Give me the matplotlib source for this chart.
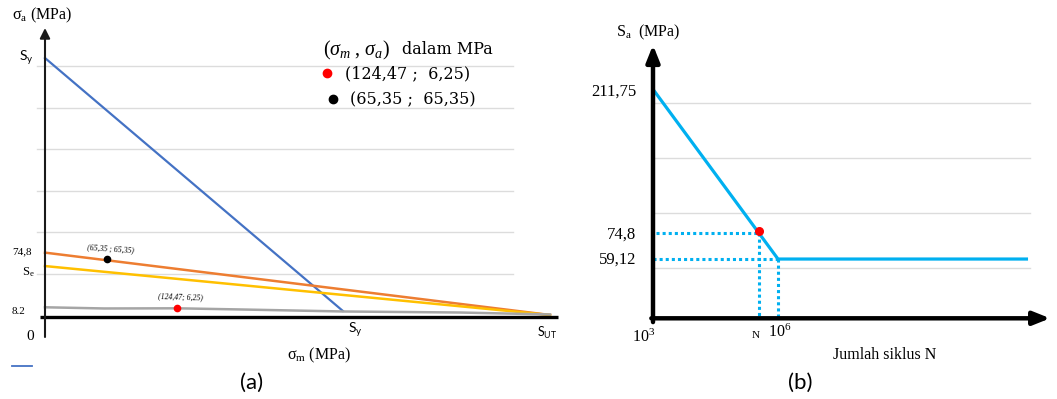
import matplotlib
matplotlib.use("Agg")
import matplotlib.pyplot as plt
import numpy as np

plt.rcParams['font.family'] = ['Liberation Serif', 'DejaVu Serif']
plt.rcParams['mathtext.fontset'] = 'custom'
plt.rcParams['mathtext.rm'] = 'Liberation Serif'
plt.rcParams['mathtext.it'] = 'Liberation Serif:italic'
plt.rcParams['mathtext.bf'] = 'Liberation Serif:bold'
plt.rcParams['mathtext.sf'] = 'Lato'

# ---------------- data: (a) stress diagram (schematic, MPa) ----------------
S_y = 302.0            # yield strength (both axes intercept of Langer line)
S_ut = 512.0           # ultimate strength on sigma_m axis
S_e = 59.12            # endurance limit on sigma_a axis
goodman_a0 = 74.8      # intercept of the orange line
end_a = 2.0            # where the lines meet near S_ut
langer_m = [0.0, S_y]
langer_a = [S_y, 6.7]
orange_m = [0.0, S_ut]
orange_a = [goodman_a0, end_a]
yellow_m = [0.0, S_ut]
yellow_a = [S_e, end_a]
gray_m = [0, 60, 134, 200, 302, 420, 512]
gray_a = [11.0, 9.6, 9.8, 8.4, 6.1, 4.9, 2.6]
black_pt = (63.2, 67.0)
red_pt = (134.1, 10.2)
grid_a_left = [50.4, 98.9, 147.3, 195.8, 244.2, 292.7]

# ---------------- data: (b) S-N diagram ----------------
N_curve = [1e3, 1e6, 1e12]
S_curve = [211.75, 54.8, 54.8]
N_point = 10 ** 5.55
S_point = 78.5
grid_s_right = [46.2, 97.6, 147.9, 199.4]

W, H = 1057, 399
fig = plt.figure(figsize=(W / 100, H / 100), dpi=100)

def P(x, y):
    return (x / W, 1 - y / H)

# ---------------- left axes ----------------
sx, sy = 0.9863, 0.8566     # px per unit
ox, oy = 45.0, 316.7        # pixel origin
ax1 = fig.add_axes([0, 0, 575 / W, 1])
ax1.set_xlim(-ox / sx, (575 - ox) / sx)
ax1.set_ylim(-(H - oy) / sy, oy / sy)
ax1.axis('off')

for g in grid_a_left:
    ax1.plot([-8.1, 474.5], [g, g], color='#DCDCDC', lw=1.0, zorder=1)

ax1.plot(langer_m, langer_a, color='#4472C4', lw=1.6, zorder=3)
ax1.plot(orange_m, orange_a, color='#ED7D31', lw=1.8, zorder=3)
ax1.plot(yellow_m, yellow_a, color='#FFC000', lw=1.8, zorder=3)
ax1.plot(gray_m, gray_a, color='#A5A5A5', lw=1.8, zorder=3)
ax1.plot(*black_pt, 'o', color='black', ms=4.5, zorder=5)
ax1.plot(*red_pt, 'o', color='red', ms=4.5, zorder=5)

# axes
ax1.plot([-5, 520], [0, 0], color='black', lw=2.4, zorder=4, solid_capstyle='butt')
ax1.annotate('', xy=(0, 337), xytext=(0, -23.7),
             arrowprops=dict(arrowstyle='-|>,head_length=0.6,head_width=0.3',
                             color='#1a1a1a', lw=1.5, shrinkA=0, shrinkB=0), zorder=4)

# point annotations
ax1.text(black_pt[0] + 3, black_pt[1] + 12, '(65,35 ; 65,35)', style='italic',
         fontsize=5.6, ha='center', va='center', rotation=-4)
ax1.text(red_pt[0] + 3, red_pt[1] + 13, '(124,47; 6,25)', style='italic',
         fontsize=5.6, ha='center', va='center', rotation=-2)

# labels (a)
fig.text(*P(12, 15), r'$\mathrm{\sigma_a}$ (MPa)', fontsize=11.5, ha='left', va='center')
fig.text(*P(26, 58), r'$\mathsf{S_y}$', fontsize=10, ha='center', va='center')
fig.text(*P(22, 252), '74,8', fontsize=8, ha='center', va='center')
fig.text(*P(28, 272), r'$\mathrm{S_e}$', fontsize=9, ha='center', va='center')
fig.text(*P(18, 311), '8.2', fontsize=8, ha='center', va='center')
fig.text(*P(30, 337), '0', fontsize=11, ha='center', va='center')
fig.text(*P(355, 330), r'$\mathsf{S_y}$', fontsize=10, ha='center', va='center')
fig.text(*P(547, 333), r'$\mathsf{S_{UT}}$', fontsize=9, ha='center', va='center')
fig.text(*P(287, 355), r'$\mathrm{\sigma_m}$ (MPa)', fontsize=11.5, ha='left', va='center')

# legend
fig.text(*P(323, 50), r'$(\sigma_m\;,\mathrm{\,}\sigma_a)$', fontsize=14.5,
         ha='left', va='center')
fig.text(*P(402, 50), 'dalam MPa', fontsize=11.5, family='DejaVu Serif',
         ha='left', va='center')
fig.text(*P(345, 74), '(124,47 ;  6,25)', fontsize=11.5, family='DejaVu Serif',
         ha='left', va='center')
fig.text(*P(350, 100), '(65,35 ;  65,35)', fontsize=11.5, family='DejaVu Serif',
         ha='left', va='center')
fig.add_artist(plt.Line2D([327 / W], [1 - 73 / H], marker='o', color='red', ms=6,
                          transform=fig.transFigure))
fig.add_artist(plt.Line2D([333 / W], [1 - 99 / H], marker='o', color='black', ms=6,
                          transform=fig.transFigure))
fig.add_artist(plt.Line2D([12 / W, 32 / W], [1 - 366 / H, 1 - 366 / H], color='#4472C4',
                          lw=1.3, transform=fig.transFigure))
fig.text(*P(252, 383), '(a)', fontsize=16, family='Lato', ha='center', va='center')

# ---------------- right axes ----------------
dec = 41.67            # px per decade
sy2 = 1.0815
ox2, oy2 = 653.0, 318.3
ax2 = fig.add_axes([580 / W, 0, 477 / W, 1])
ax2.set_xscale('log')
ax2.set_xlim(10 ** (3 - (ox2 - 580) / dec), 10 ** (3 + (W - ox2) / dec))
ax2.set_ylim(-(H - oy2) / sy2, oy2 / sy2)
ax2.axis('off')

for g in grid_s_right:
    ax2.plot([1e3, 10 ** 12.05], [g, g], color='#DCDCDC', lw=1.0, zorder=1)

cyan = '#00B0F0'
ax2.plot(N_curve, S_curve, color=cyan, lw=2.3, zorder=3, solid_capstyle='butt')
ax2.plot([10 ** 3.07, N_point], [S_point, S_point], color=cyan, lw=2.2,
         linestyle=(0, (1, 1)), zorder=2)
ax2.plot([1e3, N_curve[1]], [S_curve[1], S_curve[1]], color=cyan, lw=2.2,
         linestyle=(0, (1, 1)), zorder=2)
ax2.plot([N_point, N_point], [S_point, 0], color=cyan, lw=2.2,
         linestyle=(0, (1, 1)), zorder=2)
ax2.plot([N_curve[1], N_curve[1]], [S_curve[1], 0], color=cyan, lw=2.2,
         linestyle=(0, (1, 1)), zorder=2)
ax2.plot(N_point, S_point + 2, 'o', color='red', ms=5.5, zorder=5)

# axes with arrows
ax2.annotate('', xy=(1e3, 252.7), xytext=(1e3, -3.5),
             arrowprops=dict(arrowstyle='-|>,head_length=1.0,head_width=0.4',
                             color='black', lw=3.2, shrinkA=0, shrinkB=0), zorder=4)
ax2.annotate('', xy=(10 ** 12.53, 0), xytext=(10 ** 2.96, 0),
             arrowprops=dict(arrowstyle='-|>,head_length=1.0,head_width=0.4',
                             color='black', lw=3.2, shrinkA=0, shrinkB=0), zorder=4)

# labels (b)
fig.text(*P(616, 32), r'$\mathrm{S_a}$  (MPa)', fontsize=11.5, ha='left', va='center')
fig.text(*P(636, 92), '211,75', fontsize=12, ha='right', va='center')
fig.text(*P(636, 235), '74,8', fontsize=12, ha='right', va='center')
fig.text(*P(636, 260), '59,12', fontsize=12, ha='right', va='center')
fig.text(*P(644, 337), r'$\mathrm{10^3}$', fontsize=11.5, ha='center', va='center')
fig.text(*P(756, 335), 'N', fontsize=8, ha='center', va='center')
fig.text(*P(780, 332), r'$\mathrm{10^6}$', fontsize=11.5, ha='center', va='center')
fig.text(*P(885, 355), 'Jumlah siklus N', fontsize=11.5, ha='center', va='center')
fig.text(*P(800, 383), '(b)', fontsize=16, family='Lato', ha='center', va='center')

fig.savefig('out.png', dpi=100)
